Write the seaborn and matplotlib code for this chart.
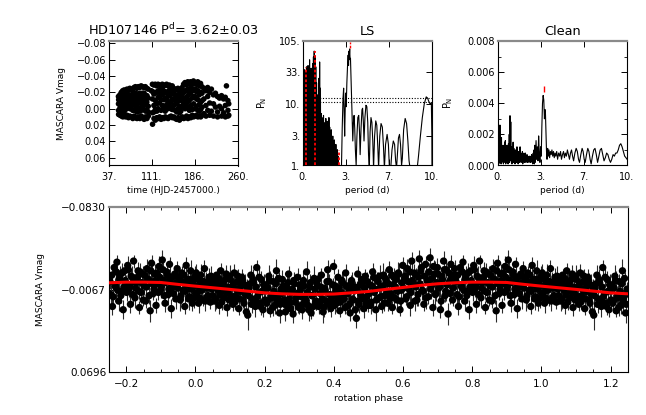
import numpy as np
import pandas as pd
import matplotlib
matplotlib.use("Agg")
import matplotlib.pyplot as plt
import seaborn as sns
from matplotlib.ticker import FixedLocator, FixedFormatter, MultipleLocator, NullLocator


# ---- values ----
star_name = "HD107146"
period_d = 3.62
period_err = 0.03

# light curve: time (HJD-2457000.) and MASCARA Vmag in mmag
hjd = [
    53.3, 53.4, 53.5, 53.6, 53.7,
    55.8, 55.9, 56.0, 56.1, 56.2,
    58.2, 58.3, 58.4, 58.5, 58.6,
    60.6, 60.7, 60.8, 60.9, 61.0,
    63.1, 63.2, 63.3, 63.4, 63.5,
    65.5, 65.6, 65.7, 65.8, 65.9,
    68.0, 68.1, 68.2, 68.3, 68.4,
    70.4, 70.5, 70.6, 70.7, 70.8,
    72.9, 73.0, 73.1, 73.2, 73.3,
    75.3, 75.4, 75.5, 75.6, 75.7,
    77.8, 77.9, 78.0, 78.1, 78.2,
    80.2, 80.3, 80.4, 80.5, 80.6,
    82.7, 82.8, 82.9, 83.0, 83.1,
    85.1, 85.2, 85.3, 85.4, 85.5,
    87.6, 87.7, 87.8, 87.9, 88.0,
    90.0, 90.1, 90.2, 90.3, 90.4,
    92.5, 92.6, 92.7, 92.8, 92.9,
    94.9, 95.0, 95.1, 95.2, 95.3,
    97.4, 97.5, 97.6, 97.7, 97.8,
    99.8, 99.9, 100.0, 100.1, 100.2,
    102.3, 102.4, 102.5, 102.6, 102.7,
    104.7, 104.8, 104.9, 105.0, 105.1,
    110.2,
    112.0, 112.1, 112.2, 112.3, 112.4,
    114.4, 114.5, 114.6, 114.7, 114.8,
    116.9, 117.0, 117.1, 117.2, 117.3,
    119.3, 119.4, 119.5, 119.6, 119.7,
    121.8, 121.9, 122.0, 122.1, 122.2,
    124.2, 124.3, 124.4, 124.5, 124.6,
    126.7, 126.8, 126.9, 127.0, 127.1,
    129.1, 129.2, 129.3, 129.4, 129.5,
    131.6, 131.7, 131.8, 131.9, 132.0,
    134.0, 134.1, 134.2, 134.3, 134.4,
    136.5, 136.6, 136.7, 136.8, 136.9,
    138.9, 139.0, 139.1, 139.2, 139.3,
    141.4, 141.5, 141.6, 141.7, 141.8,
    143.8, 143.9, 144.0, 144.1, 144.2,
    146.3, 146.4, 146.5, 146.6, 146.7,
    148.7, 148.8, 148.9, 149.0, 149.1,
    151.2, 151.3, 151.4, 151.5, 151.6,
    153.6, 153.7, 153.8, 153.9, 154.0,
    156.1, 156.2, 156.3, 156.4, 156.5,
    158.5, 158.6, 158.7, 158.8, 158.9,
    161.0, 161.1, 161.2, 161.3, 161.4,
    163.4, 163.5, 163.6, 163.7, 163.8,
    165.9, 166.0, 166.1, 166.2, 166.3,
    168.3, 168.4, 168.5, 168.6, 168.7,
    170.8, 170.9, 171.0, 171.1, 171.2,
    173.2, 173.3, 173.4, 173.5, 173.6,
    175.7, 175.8, 175.9, 176.0, 176.1,
    178.1, 178.2, 178.3, 178.4, 178.5,
    180.6, 180.7, 180.8, 180.9, 181.0,
    183.0, 183.1, 183.2, 183.3, 183.4,
    185.5, 185.6, 185.7, 185.8, 185.9,
    187.9, 188.0, 188.1, 188.2, 188.3,
    190.4, 190.5, 190.6, 190.7, 190.8,
    192.8, 192.9, 193.0, 193.1, 193.2,
    195.3, 195.4, 195.5, 195.6, 195.7,
    197.7, 197.8, 197.9, 198.0, 198.1,
    201.0, 201.1, 201.2,
    204.5, 204.6, 204.7,
    207.5, 207.6, 207.7,
    211.0, 211.1, 211.2,
    214.0, 214.1,
    217.5, 217.6, 217.7,
    221.0, 221.1,
    224.5, 224.6, 224.7,
    228.0, 228.1,
    231.5, 231.6, 231.7,
    235.0, 235.1,
    238.0, 238.1, 238.2,
    240.0,
    242.5, 242.6, 242.7,
    244.0, 244.1,
]
vmag_mmag = [
    -15, -6, 2, 7, -11,
    -17, -9, -1, 8, -13,
    -20, -12, -3, 9, 4,
    -22, -8, 0, 10, -15,
    -23, -14, -4, 6, -18,
    -21, -10, 1, 10, -15,
    -24, -15, -6, 8, -19,
    -23, -11, -2, 11, -17,
    -25, -16, 0, 9, -8,
    -24, -9, -3, 10, -17,
    -22, -13, 2, 12, -6,
    -26, -17, -5, 9, 2,
    -27, -10, 0, 11, -19,
    -25, -14, -4, 12, 4,
    -27, -18, -1, 10, -9,
    -26, -11, 3, 12, -19,
    -28, -15, -6, 9, 2,
    -27, -19, -2, 11, -10,
    -26, -12, 1, 13, -19,
    -27, -16, -5, 10, 3,
    -25, -8, 2, 12, -16,
    -24, -13, -3, 9, 4,
    -22,
    -30, -12, 5, 19, -21,
    -29, -18, -4, 12, 4,
    -30, -10, 1, 14, -20,
    -28, -20, -6, 11, 3,
    -30, -14, 0, 12, -22,
    -29, -22, -7, 10, -15,
    -27, -11, 2, 13, -19,
    -30, -17, -4, 11, -24,
    -28, -21, -1, 12, -11,
    -29, -13, 3, 10, -21,
    -30, -19, -5, 11, -12,
    -28, -9, 0, 12, -18,
    -29, -16, -3, 10, -23,
    -27, -22, -8, 9, 0,
    -28, -12, 1, 11, -20,
    -25, -18, -4, 10, -11,
    -24, -10, 2, 12, -17,
    -23, -15, -6, 13, 4,
    -25, -9, 0, 11, -17,
    -22, -14, -3, 14, 5,
    -24, -11, 3, 12, -18,
    -26, -17, -2, 10, -9,
    -30, -20, -5, 12, -12,
    -32, -12, 0, 11, -22,
    -29, -22, -7, 9, -14,
    -33, -16, -2, 12, -24,
    -31, -10, 2, 10, -21,
    -33, -19, -4, 11, -26,
    -30, -13, 1, 8, -22,
    -34, -24, -6, 10, -15,
    -32, -15, 0, 9, -24,
    -30, -21, -3, 8, -12,
    -33, -11, 2, 10, -22,
    -28, -17, -5, 9, 3,
    -31, -8, 1, 10, -20,
    -27, -19, -2, 8, -10,
    -25, -12, 6,
    -22, -4, 9,
    -26, -15, 2,
    -20, -7, 8,
    -24, 3,
    -17, -6, 9,
    -19, -2,
    -15, 4, 10,
    -13, -3,
    -16, 0, 9,
    -12, 5,
    -14, -4, 10,
    -28,
    -10, 2, 9,
    -6, 8,
]

# Lomb-Scargle periodogram (period in d, normalised power)
ls_period = [
    0.00, 0.03, 0.06, 0.09, 0.12, 0.15, 0.18, 0.21, 0.24, 0.27,
    0.30, 0.33, 0.36, 0.39, 0.42, 0.45, 0.48, 0.51, 0.54, 0.57,
    0.60, 0.63, 0.66, 0.69, 0.72, 0.75, 0.78, 0.81, 0.84, 0.87,
    0.90, 0.93, 0.96, 0.99, 1.02, 1.05, 1.08, 1.11, 1.14, 1.17,
    1.20, 1.23, 1.26, 1.29, 1.32, 1.35, 1.38, 1.41, 1.44, 1.47,
    1.50, 1.53, 1.56, 1.59, 1.62, 1.65, 1.68, 1.71, 1.74, 1.77,
    1.80, 1.83, 1.86, 1.89, 1.92, 1.95, 1.98, 2.01, 2.04, 2.07,
    2.10, 2.13, 2.16, 2.19, 2.22, 2.25, 2.28, 2.31, 2.34, 2.37,
    2.40, 2.43, 2.46, 2.49, 2.52, 2.55, 2.58, 2.61, 2.64, 2.67,
    2.70, 2.73, 2.76,
    2.98, 3.04, 3.10, 3.15, 3.19, 3.23, 3.27, 3.31, 3.35, 3.40,
    3.46, 3.50, 3.53, 3.56, 3.59, 3.62, 3.65, 3.68, 3.72, 3.77,
    3.82, 3.86, 3.91, 3.96, 4.01, 4.06, 4.12, 4.18, 4.25, 4.32,
    4.38, 4.43, 4.50, 4.57, 4.62, 4.68, 4.73, 4.80, 4.88, 4.95,
    5.02, 5.08, 5.14, 5.20, 5.27, 5.34, 5.41, 5.47, 5.55, 5.64,
    5.72, 5.80, 5.86, 5.95, 6.05, 6.15, 6.24, 6.31, 6.40, 6.52,
    6.62, 6.70, 6.80, 6.90, 7.00, 7.10, 7.18, 7.25, 7.32, 7.40,
    7.48, 7.56, 7.64, 7.70, 7.80, 7.92, 8.03, 8.13, 8.22, 8.30,
    8.60, 8.85, 8.95, 9.10, 9.25, 9.40, 9.55, 9.65, 9.75, 9.85,
    9.95, 9.99, 10.0,
]
ls_power = [
    0.9, 28, 0.8, 36, 0.9, 24, 0.7, 34, 0.9, 40,
    0.8, 30, 0.9, 42, 0.7, 25, 0.9, 52, 0.8, 20,
    0.9, 38, 0.7, 28, 0.9, 45, 0.8, 58, 0.9, 72,
    0.7, 60, 0.9, 40, 0.8, 22, 0.9, 14, 0.7, 9,
    0.9, 26, 0.8, 48, 0.9, 18, 0.7, 7, 0.9, 6,
    0.8, 5.5, 0.9, 6.5, 0.7, 4.5, 0.9, 5, 0.8, 5.8,
    0.9, 4, 0.7, 5.2, 0.9, 3.5, 0.8, 6, 0.9, 4.2,
    0.7, 3.2, 0.9, 3.8, 0.8, 2.8, 0.9, 3, 0.7, 2.4,
    0.9, 2.6, 0.8, 2, 0.9, 2.2, 0.7, 1.7, 0.9, 1.8,
    0.8, 1.4, 0.8,
    0.9, 4, 12, 18, 8, 3, 8, 15, 9, 22,
    45, 62, 42, 72, 58, 78, 52, 55, 28, 12,
    5, 2.5, 5, 6.5, 4, 1.8, 1.0, 3, 6, 6.5,
    3.5, 1.5, 4, 8, 8.5, 5, 2.5, 6, 9.5, 9,
    5, 1.5, 0.9, 3.5, 6, 5, 2.5, 0.9, 3, 5.3,
    4.5, 2, 0.9, 3, 4.8, 4.2, 2, 0.9, 2.2, 3.2,
    2.2, 0.9, 0.9, 1.8, 2.5, 2.2, 1.2, 0.9, 1.5, 2.8,
    3.2, 2.2, 1.0, 1.3, 3.8, 5.8, 4.8, 2.5, 1.2, 0.9,
    0.8, 0.9, 1.4, 3, 6, 10, 13, 12.5, 11, 10,
    10.5, 3, 0.8,
]
ls_levels = [12.6, 10.6]
ls_alias_period = [0.27, 0.93, 2.76]
ls_alias_power = [40, 72, 1.8]
ls_best_mark = [82, 100]

# CLEAN periodogram
clean_period = [
    0.00, 0.03, 0.06, 0.09, 0.12, 0.15, 0.18, 0.21, 0.24, 0.27,
    0.30, 0.33, 0.36, 0.39, 0.42, 0.45, 0.48, 0.51, 0.54, 0.57,
    0.60, 0.63, 0.66, 0.69, 0.72, 0.75, 0.78, 0.81, 0.84, 0.87,
    0.90, 0.93, 0.96, 0.99, 1.02, 1.05, 1.08, 1.11, 1.14, 1.17,
    1.20, 1.23, 1.26, 1.29, 1.32, 1.35, 1.38, 1.41, 1.44, 1.47,
    1.50, 1.53, 1.56, 1.59, 1.62, 1.65, 1.68, 1.71, 1.74, 1.77,
    1.80, 1.83, 1.86, 1.89, 1.92, 1.95, 1.98, 2.01, 2.04, 2.07,
    2.10, 2.13, 2.16, 2.19, 2.22, 2.25, 2.28, 2.31, 2.34, 2.37,
    2.40, 2.43, 2.46, 2.49, 2.52, 2.55, 2.58, 2.61, 2.64, 2.67,
    2.70, 2.73, 2.76, 2.79, 2.82, 2.85, 2.88,
    2.95, 3.00, 3.05, 3.10, 3.15, 3.20, 3.25, 3.30, 3.35, 3.40,
    3.45, 3.50, 3.55, 3.60, 3.64, 3.68, 3.72, 3.76, 3.80, 3.85,
    3.90, 3.95, 4.00, 4.06, 4.12, 4.18, 4.24, 4.30, 4.36, 4.42,
    4.48, 4.55, 4.62, 4.70, 4.78, 4.85, 4.92, 5.00, 5.08, 5.15,
    5.22, 5.30, 5.38, 5.46, 5.54, 5.62, 5.70, 5.78, 5.86, 5.96,
    6.06, 6.15, 6.24, 6.32, 6.42, 6.52, 6.60, 6.68, 6.76, 6.86,
    6.96, 7.05, 7.14, 7.22, 7.32, 7.42, 7.52, 7.62, 7.72, 7.82,
    7.92, 8.02, 8.12, 8.22, 8.32, 8.42, 8.52, 8.62, 8.72, 8.82,
    8.92, 9.02, 9.12, 9.22, 9.32, 9.42, 9.52, 9.62, 9.72, 9.82,
    9.92, 10.0,
]
clean_power = [
    0.0004, 0.0012, 0.0001, 0.0022, 0.0002, 0.0026, 0.0003, 0.0014, 0.0001, 0.0018,
    0.0002, 0.0011, 0.0003, 0.0013, 0.0001, 0.0010, 0.0002, 0.0015, 0.0003, 0.0016,
    0.0001, 0.0009, 0.0002, 0.0013, 0.0003, 0.0010, 0.0001, 0.0014, 0.0004, 0.0020,
    0.0002, 0.0032, 0.0005, 0.0028, 0.0003, 0.0012, 0.0001, 0.0009, 0.0003, 0.0015,
    0.0002, 0.0011, 0.0004, 0.0008, 0.0001, 0.0010, 0.0003, 0.0007, 0.0002, 0.0012,
    0.0004, 0.0008, 0.0001, 0.0009, 0.0003, 0.0007, 0.0002, 0.0012, 0.0004, 0.0008,
    0.0002, 0.0007, 0.0003, 0.0009, 0.0001, 0.0007, 0.0003, 0.0008, 0.0002, 0.0006,
    0.0003, 0.0008, 0.0002, 0.0006, 0.0003, 0.0007, 0.0002, 0.0006, 0.0003, 0.0005,
    0.0002, 0.0006, 0.0003, 0.0005, 0.0002, 0.0006, 0.0003, 0.0007, 0.0002, 0.0005,
    0.0001, 0.0008, 0.0002, 0.0010, 0.0001, 0.0013, 0.0002,
    0.0016, 0.0004, 0.0012, 0.0003, 0.0019, 0.0008, 0.0002, 0.0012, 0.0006, 0.0025,
    0.0040, 0.0045, 0.0042, 0.0030, 0.0036, 0.0033, 0.0020, 0.0009, 0.0004, 0.0011,
    0.0006, 0.0010, 0.0005, 0.0009, 0.0007, 0.0010, 0.0006, 0.0009, 0.0005, 0.0008,
    0.0006, 0.0009, 0.0004, 0.0008, 0.0006, 0.0009, 0.0004, 0.0007, 0.0009, 0.0005,
    0.0008, 0.0006, 0.0010, 0.0007, 0.0004, 0.0008, 0.0010, 0.0006, 0.0003, 0.0008,
    0.0011, 0.0009, 0.0004, 0.0002, 0.0007, 0.0011, 0.0009, 0.0004, 0.0002, 0.0007,
    0.0011, 0.0009, 0.0004, 0.0001, 0.0006, 0.0010, 0.0011, 0.0007, 0.0002, 0.0006,
    0.0010, 0.0011, 0.0007, 0.0003, 0.0005, 0.0008, 0.0007, 0.0004, 0.0002, 0.0004,
    0.0007, 0.0006, 0.0008, 0.0008, 0.0010, 0.0013, 0.0014, 0.0012, 0.0009, 0.0006,
    0.0005, 0.0004,
]
clean_best_mark = [0.0047, 0.0051]

# phased light curve: rotation phase, Vmag (mmag), error (mmag)
phase = [
    0.002, 0.006, 0.009, 0.013, 0.017, 0.021, 0.026, 0.030, 0.034, 0.039, 0.043, 0.047,
    0.052, 0.056, 0.061, 0.065, 0.069, 0.073, 0.078, 0.082, 0.087, 0.091, 0.095, 0.099,
    0.103, 0.108, 0.112, 0.116, 0.121, 0.125, 0.129, 0.134, 0.138, 0.142, 0.147,
    0.151, 0.155, 0.160, 0.164, 0.168, 0.173, 0.177, 0.182, 0.186, 0.190, 0.195, 0.199,
    0.203, 0.208, 0.212, 0.216, 0.221, 0.225, 0.230, 0.234, 0.238, 0.243, 0.247,
    0.251, 0.256, 0.260, 0.264, 0.269, 0.273, 0.277, 0.282, 0.286, 0.291, 0.295, 0.299,
    0.303, 0.308, 0.312, 0.317, 0.321, 0.325, 0.330, 0.334, 0.338, 0.343, 0.347,
    0.351, 0.356, 0.360, 0.364, 0.369, 0.373, 0.378, 0.382, 0.386, 0.391, 0.395, 0.399,
    0.404, 0.408, 0.412, 0.417, 0.421, 0.425, 0.430, 0.434, 0.438, 0.443, 0.447,
    0.451, 0.456, 0.460, 0.465, 0.469, 0.473, 0.478, 0.482, 0.486, 0.491, 0.495, 0.499,
    0.504, 0.508, 0.512, 0.517, 0.521, 0.525, 0.530, 0.534, 0.538, 0.543, 0.547,
    0.551, 0.556, 0.560, 0.565, 0.569, 0.573, 0.578, 0.582, 0.586, 0.591, 0.595, 0.599,
    0.604, 0.608, 0.612, 0.617, 0.621, 0.625, 0.630, 0.634, 0.638, 0.643, 0.647,
    0.651, 0.656, 0.660, 0.665, 0.669, 0.673, 0.678, 0.682, 0.686, 0.691, 0.695, 0.699,
    0.703, 0.708, 0.712, 0.717, 0.721, 0.725, 0.730, 0.734, 0.738, 0.743, 0.747,
    0.751, 0.756, 0.760, 0.765, 0.769, 0.773, 0.778, 0.782, 0.786, 0.791, 0.795, 0.799,
    0.804, 0.808, 0.812, 0.817, 0.821, 0.825, 0.830, 0.834, 0.838, 0.843, 0.847,
    0.851, 0.856, 0.860, 0.865, 0.869, 0.873, 0.878, 0.882, 0.886, 0.891, 0.895, 0.899,
    0.904, 0.908, 0.912, 0.917, 0.921, 0.925, 0.930, 0.934, 0.938, 0.943, 0.947,
    0.951, 0.956, 0.960, 0.965, 0.969, 0.973, 0.978, 0.982, 0.986, 0.991, 0.995, 0.999,
    0.000, 0.004, 0.008, 0.011, 0.015, 0.019, 0.024, 0.028, 0.032, 0.037, 0.041, 0.045,
    0.050, 0.054, 0.058, 0.063, 0.067, 0.071, 0.076, 0.080, 0.084, 0.089, 0.093, 0.097,
    0.101, 0.105, 0.110, 0.114, 0.118, 0.123, 0.127, 0.131, 0.136, 0.140, 0.144, 0.149,
    0.153, 0.158, 0.162, 0.166, 0.171, 0.175, 0.179, 0.184, 0.188, 0.192, 0.197, 0.201,
    0.206, 0.210, 0.214, 0.219, 0.223, 0.227, 0.232, 0.236, 0.240, 0.245, 0.249, 0.253,
    0.258, 0.262, 0.267, 0.271, 0.275, 0.280, 0.284, 0.288, 0.293, 0.297, 0.301, 0.306,
    0.310, 0.314, 0.319, 0.323, 0.327, 0.332, 0.336, 0.341, 0.345, 0.349, 0.354, 0.358,
    0.362, 0.367, 0.371, 0.375, 0.380, 0.384, 0.388, 0.393, 0.397, 0.402, 0.406, 0.410,
    0.415, 0.419, 0.423, 0.428, 0.432, 0.436, 0.441, 0.445, 0.449, 0.454, 0.458, 0.462,
    0.467, 0.471, 0.476, 0.480, 0.484, 0.489, 0.493, 0.497, 0.502, 0.506, 0.510, 0.515,
    0.519, 0.523, 0.528, 0.532, 0.536, 0.541, 0.545, 0.549, 0.554, 0.558, 0.562, 0.567,
    0.571, 0.575, 0.580, 0.584, 0.588, 0.593, 0.597, 0.601, 0.606, 0.610, 0.614, 0.619,
    0.623, 0.627, 0.632, 0.636, 0.640, 0.645, 0.649, 0.653, 0.658, 0.662, 0.666, 0.671,
    0.675, 0.680, 0.684, 0.688, 0.693, 0.697, 0.701, 0.706, 0.710, 0.714, 0.719, 0.723,
    0.727, 0.732, 0.736, 0.740, 0.745, 0.749, 0.753, 0.758, 0.762, 0.767, 0.771, 0.775,
    0.780, 0.784, 0.788, 0.793, 0.797, 0.801, 0.806, 0.810, 0.814, 0.819, 0.823, 0.827,
    0.832, 0.836, 0.840, 0.845, 0.849, 0.853, 0.858, 0.862, 0.866, 0.871, 0.875, 0.880,
    0.884, 0.888, 0.893, 0.897, 0.901, 0.906, 0.910, 0.914, 0.919, 0.923, 0.927, 0.932,
    0.936, 0.940, 0.945, 0.949, 0.953, 0.958, 0.962, 0.967, 0.971, 0.975, 0.980, 0.984,
    0.988, 0.993, 0.997,
]
phase_vmag_mmag = [
    -22, -4, 6, -15, -9, 3, -26, -12, 0, -18, 5, -7,
    -13, 4, -20, -6, 8, -24, -10, 1, -16, 10, -3, -19,
    -9, 7, -22, -1, -14, 11, -5, -18, 3, -11, 14,
    17, -8, -20, 2, -13, 9, -27, -3, 6, -16, 12, -6,
    -11, 4, -19, 13, -2, -14, 8, -24, 0, 15, -7,
    -16, 3, 14, -9, -21, 6, -4, 16, -12, 1, -18, 10,
    -6, 12, -15, 2, -23, 8, -9, 15, -1, -17, 5,
    -12, 9, -3, -20, 14, -8, 4, -25, -14, 11, 0, -28,
    -10, 6, -18, 13, -4, -13, 2, -22, 9, -7, 15,
    -15, 3, -9, 20, -21, 7, -2, -13, 11, -19, 0, 8,
    -11, 5, -23, -4, 12, -16, 1, -8, 9, -20, -1,
    -14, 6, -25, -3, 10, -18, -9, 3, -22, 12, -6, -29,
    -17, 2, -26, -7, 8, -33, -12, 4, -20, -2, -35,
    -24, -6, 7, -30, -15, 0, -36, -10, 10, -21, -3, -27,
    -8, 12, -19, -33, -1, -25, 16, -14, -30, 3, -20,
    -16, -2, 9, -27, -9, -32, 4, -20, -5, 12, -24, -12,
    -29, -7, 7, -18, -33, 1, -13, -24, 10, -4, -21,
    -10, 4, -26, -16, 13, -31, -3, -21, 8, -12, -28, -6,
    -34, -15, 6, -23, -2, -30, 11, -9, -19, 2, -26,
    -13, 3, -22, -6, 9, -29, -16, 0, -24, 6, -10, -19,
    -3, -17, -10, 1, -20, -6, -14, 4, -8, -1, -13, -19,
    -1, -15, 2, -11, -17, -2, 5, -13, -5, -21, -9, 3,
    -16, 0, -12, 5, -7, -19, 2, -10, -15, 6, -2, -8,
    -1, -12, 7, -16, 4, -9, 0, -18, 9, -5, -11, 3,
    6, -8, -15, 1, 10, -5, -12, 3, -17, 7, -3, -10,
    -6, 8, -13, 2, 11, -7, -15, 5, -3, 9, -11, 0,
    7, -10, 3, -4, 12, -13, -1, 9, -7, 4, -16, 6,
    -9, 2, 10, -6, -14, 7, -2, 4, -11, 8, -5, 1,
    -8, 5, -15, 0, 10, -10, -3, 7, -12, 2, -6, 12,
    -6, 4, -11, -16, 2, -8, 6, -14, -3, 8, -10, -18,
    -7, 3, -14, -19, 0, -10, 6, -17, -4, -12, 2, -20,
    -11, 1, -16, -5, -21, 4, -13, -8, -19, 0, -14, -23,
    -4, -15, -22, -9, 3, -18, -12, -27, -5, -19, 1, -14,
    -23, -7, -17, -28, -2, -13, -21, -9, 4, -16, -25, -5,
    -11, -22, -3, -18, -8, -26, -14, -20, 0, -11, -23, -6,
    -17, -1, -22, -9, -15, -4, -25, -11, -19, -2, -14, -8,
    -18, -5, -23, -13, 3, -20, -9, -16, -1, -24, -12, -7,
    -15, -22, -4, -18, -9, -25, -1, -13, -20, -7, -16, -11,
    -3, -21, -13, -8, -18, -1, -14, -20, -5, -11, 2, -16,
    -7, -13, 1,
]
phase_err_mmag = [
    8, 6, 9, 7, 10, 6, 8, 11, 7, 9, 6, 8,
    7, 9, 6, 10, 8, 7, 12, 6, 9, 8, 7, 10,
    9, 6, 8, 7, 11, 6, 9, 8, 7, 10, 6,
    14, 7, 9, 6, 8, 10, 7, 9, 6, 8, 7, 9,
    8, 7, 10, 6, 9, 7, 8, 11, 6, 9, 7,
    9, 6, 8, 10, 7, 9, 6, 8, 11, 7, 9, 6,
    7, 9, 8, 6, 10, 7, 9, 6, 8, 11, 7,
    8, 6, 9, 7, 10, 8, 6, 9, 7, 8, 10, 7,
    9, 7, 8, 6, 10, 7, 9, 8, 6, 9, 7,
    8, 10, 6, 9, 7, 8, 11, 6, 9, 7, 8, 6,
    7, 9, 8, 6, 10, 7, 8, 9, 6, 11, 7,
    9, 7, 8, 10, 6, 9, 7, 8, 10, 6, 9, 8,
    8, 6, 9, 7, 10, 8, 6, 9, 7, 11, 8,
    7, 9, 6, 8, 10, 7, 9, 6, 8, 12, 7, 9,
    12, 8, 7, 9, 6, 8, 10, 7, 9, 6, 8,
    7, 9, 8, 6, 10, 7, 9, 8, 6, 9, 7, 8,
    9, 7, 8, 10, 6, 9, 7, 8, 6, 10, 7,
    8, 6, 9, 7, 10, 8, 6, 9, 7, 8, 10, 6,
    9, 7, 8, 6, 10, 7, 9, 8, 6, 9, 7,
    8, 10, 6, 9, 7, 8, 9, 6, 10, 7, 8, 9,
    7, 9, 8, 6, 10, 7, 8, 9, 6, 8, 7, 9,
    8, 7, 9, 6, 10, 8, 7, 9, 6, 8, 10, 7,
    9, 7, 8, 6, 10, 7, 9, 8, 7, 6, 11, 8,
    7, 9, 8, 10, 6, 8, 7, 9, 8, 6, 10, 7,
    8, 7, 9, 6, 8, 10, 7, 9, 6, 8, 7, 9,
    9, 7, 8, 10, 6, 8, 7, 9, 8, 6, 10, 7,
    8, 9, 7, 6, 10, 8, 7, 9, 6, 8, 7, 10,
    7, 8, 9, 6, 10, 7, 8, 9, 6, 8, 7, 9,
    8, 10, 7, 9, 6, 8, 7, 9, 8, 6, 10, 7,
    9, 7, 8, 6, 10, 8, 7, 9, 6, 8, 7, 9,
    7, 8, 9, 10, 6, 8, 7, 9, 8, 6, 10, 7,
    8, 9, 7, 6, 10, 8, 7, 9, 6, 8, 7, 10,
    9, 7, 8, 10, 6, 8, 7, 9, 8, 6, 10, 7,
    8, 9, 7, 6, 10, 8, 7, 9, 6, 8, 7, 9,
    7, 8, 10, 9, 6, 8, 7, 9, 8, 6, 10, 7,
    8, 7, 9, 6, 10, 8, 7, 9, 6, 8, 7, 10,
    9, 7, 8, 10, 6, 8, 7, 9, 8, 6, 10, 7,
    8, 9, 7, 6, 10, 8, 7, 9, 6, 8, 7, 9,
    7, 8, 10, 9, 6, 8, 7, 9, 8, 6, 10, 7,
    8, 6, 9,
]

# sine fit over one rotation
fit_phase = [0.00, 0.05, 0.10, 0.15, 0.20, 0.25, 0.30, 0.35, 0.40, 0.45,
             0.50, 0.55, 0.60, 0.65, 0.70, 0.75, 0.80, 0.85, 0.90, 0.95]
fit_vmag_mmag = [-9.8, -8.3, -6.8, -5.2, -3.6, -2.7, -2.2, -2.2, -2.5, -3.6,
                 -4.9, -6.8, -8.6, -10.5, -12.0, -12.9, -13.5, -13.5, -13.2, -11.4]

mag_lim = (0.0696, -0.0830)


sns.set_theme(style="ticks")
plt.rcParams["font.family"] = ["DejaVu Sans"]
plt.rcParams["axes.unicode_minus"] = True
for key in ["text.color", "axes.labelcolor", "xtick.color", "ytick.color", "axes.edgecolor"]:
    plt.rcParams[key] = "black"


def idl_style(ax, labelsize=7):
    ax.set_facecolor("white")
    ax.tick_params(which="both", direction="in", top=True, right=True,
                   labelsize=labelsize, colors="black")
    ax.tick_params(which="major", length=4, width=0.7)
    ax.tick_params(which="minor", length=2, width=0.6)
    for side in ["left", "right", "bottom"]:
        ax.spines[side].set_color("black")
        ax.spines[side].set_linewidth(0.8)
    ax.spines["top"].set_color("#8a8a8a")
    ax.spines["top"].set_linewidth(1.6)


W, H = 646, 415
fig = plt.figure(figsize=(W / 100, H / 100), dpi=100)
fig.patch.set_facecolor("white")


def px_axes(left, top, right, bottom):
    return fig.add_axes([left / W, 1 - bottom / H, (right - left) / W, (bottom - top) / H])


ax_lc = px_axes(109, 41, 238, 165.5)
ax_ls = px_axes(303, 41, 432, 165.5)
ax_cl = px_axes(498, 41, 627, 165.5)
ax_ph = px_axes(109, 207, 628, 372)

# ---- light curve ----
lc = pd.DataFrame({"hjd": hjd, "vmag": np.array(vmag_mmag) / 1000.0})
sns.scatterplot(data=lc, x="hjd", y="vmag", ax=ax_lc, color="black", s=16,
                edgecolor="none", linewidth=0, legend=False)
idl_style(ax_lc)
ax_lc.set_xlim(37, 260)
ax_lc.set_ylim(*mag_lim)
ax_lc.xaxis.set_major_locator(FixedLocator([37, 111.33, 185.67, 260]))
ax_lc.xaxis.set_major_formatter(FixedFormatter(["37.", "111.", "186.", "260."]))
lc_yt = [-0.08, -0.06, -0.04, -0.02, 0.0, 0.02, 0.04, 0.06]
ax_lc.yaxis.set_major_locator(FixedLocator(lc_yt))
ax_lc.yaxis.set_major_formatter(FixedFormatter([f"{v:.2f}".replace("-", "\u2212") for v in lc_yt]))
ax_lc.tick_params(axis="x", pad=4.5)
ax_lc.tick_params(axis="y", pad=2)
ax_lc.set_xlabel("time (HJD-2457000.)", fontsize=6.5)
ax_lc.set_ylabel("MASCARA Vmag", fontsize=6.5)
ax_lc.xaxis.set_label_coords(0.5, -0.165)
ax_lc.yaxis.set_label_coords(-0.337, 0.5)
ax_lc.set_title(f"{star_name} P$^\\mathrm{{d}}$= {period_d:.2f}\u00b1{period_err:.2f}",
                fontsize=9.3, pad=4, color="black")

# ---- LS periodogram ----
ls = pd.DataFrame({"period": ls_period, "power": ls_power})
sns.lineplot(data=ls, x="period", y="power", ax=ax_ls, color="black", lw=0.8,
             sort=False, estimator=None)
idl_style(ax_ls)
ax_ls.set_yscale("log")
ax_ls.set_xlim(0, 10)
ax_ls.set_ylim(1, 105)
for lev in ls_levels:
    ax_ls.axhline(lev, color="black", ls=(0, (1, 1.5)), lw=0.8)
ax_ls.vlines(ls_alias_period, 1, ls_alias_power, colors="red",
             linestyles=(0, (1.5, 1.2)), lw=1.3, zorder=5)
ax_ls.vlines([period_d], ls_best_mark[0], ls_best_mark[1], colors="red",
             linestyles=(0, (2, 1)), lw=1.0, zorder=5)
ax_ls.yaxis.set_major_locator(FixedLocator([1, 3, 10, 33, 105]))
ax_ls.yaxis.set_major_formatter(FixedFormatter(["1.", "3.", "10.", "33.", "105."]))
ax_ls.yaxis.set_minor_locator(NullLocator())
for ax in (ax_ls, ax_cl):
    ax.xaxis.set_major_locator(FixedLocator([0, 10 / 3, 20 / 3, 10]))
    ax.xaxis.set_major_formatter(FixedFormatter(["0.", "3.", "7.", "10."]))
    ax.tick_params(axis="x", pad=4.5)
    ax.tick_params(axis="y", pad=2)
    ax.set_xlabel("period (d)", fontsize=6.5)
    ax.xaxis.set_label_coords(0.5, -0.165)
ax_ls.set_ylabel("P$_\\mathrm{N}$", fontsize=7)
ax_ls.yaxis.set_label_coords(-0.264, 0.5)
ax_ls.set_title("LS", fontsize=9.3, pad=4, color="black")

# ---- CLEAN periodogram ----
cl = pd.DataFrame({"period": clean_period, "power": clean_power})
sns.lineplot(data=cl, x="period", y="power", ax=ax_cl, color="black", lw=0.8,
             sort=False, estimator=None)
idl_style(ax_cl)
ax_cl.set_xlim(0, 10)
ax_cl.set_ylim(0, 0.008)
ax_cl.vlines([period_d - 0.07], clean_best_mark[0], clean_best_mark[1], colors="red",
             lw=1.0, zorder=5)
cl_yt = [0.0, 0.002, 0.004, 0.006, 0.008]
ax_cl.yaxis.set_major_locator(FixedLocator(cl_yt))
ax_cl.yaxis.set_major_formatter(FixedFormatter([f"{v:.3f}" for v in cl_yt]))
ax_cl.yaxis.set_minor_locator(MultipleLocator(0.001))
ax_cl.set_ylabel("P$_\\mathrm{N}$", fontsize=7)
ax_cl.yaxis.set_label_coords(-0.337, 0.5)
ax_cl.set_title("Clean", fontsize=9.3, pad=4, color="black")

# ---- phased light curve ----
ph = pd.DataFrame({
    "phase": phase,
    "vmag": np.array(phase_vmag_mmag) / 1000.0,
    "err": np.array(phase_err_mmag) / 1000.0,
})
ph_plot = pd.concat([
    ph.assign(phase=ph["phase"] - 1)[ph["phase"] >= 0.75],
    ph,
    ph.assign(phase=ph["phase"] + 1)[ph["phase"] < 0.25],
], ignore_index=True)
ax_ph.vlines(ph_plot["phase"], ph_plot["vmag"] - ph_plot["err"],
             ph_plot["vmag"] + ph_plot["err"], colors="#2a2a2a", lw=0.8, zorder=1)
sns.scatterplot(data=ph_plot, x="phase", y="vmag", ax=ax_ph, color="black", s=28,
                edgecolor="none", linewidth=0, legend=False, zorder=2)

fit = pd.DataFrame({"phase": fit_phase, "vmag": np.array(fit_vmag_mmag) / 1000.0})
fit_plot = pd.concat([fit.assign(phase=fit["phase"] + k) for k in (-1, 0, 1, 2)],
                     ignore_index=True)
sns.lineplot(data=fit_plot, x="phase", y="vmag", ax=ax_ph, color="red", lw=2.2,
             sort=False, estimator=None, zorder=3)

idl_style(ax_ph, labelsize=7.5)
ax_ph.set_xlim(-0.25, 1.25)
ax_ph.set_ylim(*mag_lim)
ph_xt = [-0.2, 0.0, 0.2, 0.4, 0.6, 0.8, 1.0, 1.2]
ax_ph.xaxis.set_major_locator(FixedLocator(ph_xt))
ax_ph.xaxis.set_major_formatter(FixedFormatter([f"{v:.1f}".replace("-", "\u2212") for v in ph_xt]))
ax_ph.xaxis.set_minor_locator(MultipleLocator(0.05))
ph_yt = [-0.0830, -0.0067, 0.0696]
ax_ph.yaxis.set_major_locator(FixedLocator(ph_yt))
ax_ph.yaxis.set_major_formatter(FixedFormatter([f"{v:.4f}".replace("-", "\u2212") for v in ph_yt]))
ax_ph.tick_params(axis="x", pad=5)
ax_ph.tick_params(axis="y", pad=2)
ax_ph.set_xlabel("rotation phase", fontsize=6.8)
ax_ph.set_ylabel("MASCARA Vmag", fontsize=6.5)
ax_ph.xaxis.set_label_coords(0.5, -0.133)
ax_ph.yaxis.set_label_coords(-0.124, 0.5)

fig.savefig("out.png", dpi=100, facecolor="white")
